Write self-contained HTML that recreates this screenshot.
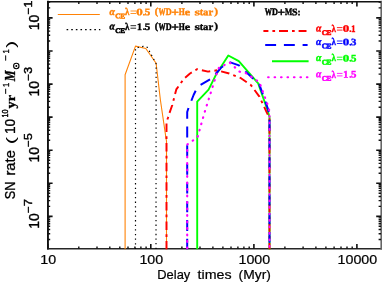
<!DOCTYPE html><html><head><meta charset="utf-8"><style>html,body{margin:0;padding:0;background:#fff}svg{display:block;will-change:transform}text{font-family:"Liberation Sans",sans-serif}.s{font-family:"Liberation Serif",serif;font-weight:bold}</style></head><body>
<svg width="382" height="283" viewBox="0 0 382 283">
<rect width="382" height="283" fill="#fff"/>
<g stroke="#111" stroke-width="1.6" fill="none">
<line x1="47.949999999999996" y1="0.8" x2="47.949999999999996" y2="249.60000000000002" stroke-width="1.9"/>
<line x1="47.0" y1="1.8" x2="382" y2="1.8" stroke-width="1.5"/>
<line x1="47.0" y1="248.75" x2="382" y2="248.75" stroke="#262626" stroke-width="1.7"/>
<line x1="381.2" y1="0.8" x2="381.2" y2="249.60000000000002" stroke="#666"/>
</g>
<path d="M78.8 248.8v-2.4M78.8 1.6v2.4M97.0 248.8v-2.4M97.0 1.6v2.4M109.8 248.8v-2.4M109.8 1.6v2.4M119.8 248.8v-2.4M119.8 1.6v2.4M128.0 248.8v-2.4M128.0 1.6v2.4M134.9 248.8v-2.4M134.9 1.6v2.4M140.9 248.8v-2.4M140.9 1.6v2.4M146.1 248.8v-2.4M146.1 1.6v2.4M181.9 248.8v-2.4M181.9 1.6v2.4M200.0 248.8v-2.4M200.0 1.6v2.4M212.9 248.8v-2.4M212.9 1.6v2.4M222.9 248.8v-2.4M222.9 1.6v2.4M231.0 248.8v-2.4M231.0 1.6v2.4M237.9 248.8v-2.4M237.9 1.6v2.4M243.9 248.8v-2.4M243.9 1.6v2.4M249.2 248.8v-2.4M249.2 1.6v2.4M284.9 248.8v-2.4M284.9 1.6v2.4M303.1 248.8v-2.4M303.1 1.6v2.4M315.9 248.8v-2.4M315.9 1.6v2.4M325.9 248.8v-2.4M325.9 1.6v2.4M334.1 248.8v-2.4M334.1 1.6v2.4M341.0 248.8v-2.4M341.0 1.6v2.4M347.0 248.8v-2.4M347.0 1.6v2.4M352.2 248.8v-2.4M352.2 1.6v2.4M47.8 239.5h2.4M381.0 239.5h-2.4M47.8 233.7h2.4M381.0 233.7h-2.4M47.8 229.5h2.4M381.0 229.5h-2.4M47.8 226.3h2.4M381.0 226.3h-2.4M47.8 223.7h2.4M381.0 223.7h-2.4M47.8 221.5h2.4M381.0 221.5h-2.4M47.8 219.6h2.4M381.0 219.6h-2.4M47.8 217.9h2.4M381.0 217.9h-2.4M47.8 206.4h2.4M381.0 206.4h-2.4M47.8 200.6h2.4M381.0 200.6h-2.4M47.8 196.5h2.4M381.0 196.5h-2.4M47.8 193.3h2.4M381.0 193.3h-2.4M47.8 190.6h2.4M381.0 190.6h-2.4M47.8 188.4h2.4M381.0 188.4h-2.4M47.8 186.5h2.4M381.0 186.5h-2.4M47.8 184.8h2.4M381.0 184.8h-2.4M47.8 173.3h2.4M381.0 173.3h-2.4M47.8 167.5h2.4M381.0 167.5h-2.4M47.8 163.4h2.4M381.0 163.4h-2.4M47.8 160.2h2.4M381.0 160.2h-2.4M47.8 157.6h2.4M381.0 157.6h-2.4M47.8 155.3h2.4M381.0 155.3h-2.4M47.8 153.4h2.4M381.0 153.4h-2.4M47.8 151.7h2.4M381.0 151.7h-2.4M47.8 140.3h2.4M381.0 140.3h-2.4M47.8 134.4h2.4M381.0 134.4h-2.4M47.8 130.3h2.4M381.0 130.3h-2.4M47.8 127.1h2.4M381.0 127.1h-2.4M47.8 124.5h2.4M381.0 124.5h-2.4M47.8 122.3h2.4M381.0 122.3h-2.4M47.8 120.3h2.4M381.0 120.3h-2.4M47.8 118.7h2.4M381.0 118.7h-2.4M47.8 107.2h2.4M381.0 107.2h-2.4M47.8 101.4h2.4M381.0 101.4h-2.4M47.8 97.2h2.4M381.0 97.2h-2.4M47.8 94.0h2.4M381.0 94.0h-2.4M47.8 91.4h2.4M381.0 91.4h-2.4M47.8 89.2h2.4M381.0 89.2h-2.4M47.8 87.3h2.4M381.0 87.3h-2.4M47.8 85.6h2.4M381.0 85.6h-2.4M47.8 74.1h2.4M381.0 74.1h-2.4M47.8 68.3h2.4M381.0 68.3h-2.4M47.8 64.1h2.4M381.0 64.1h-2.4M47.8 60.9h2.4M381.0 60.9h-2.4M47.8 58.3h2.4M381.0 58.3h-2.4M47.8 56.1h2.4M381.0 56.1h-2.4M47.8 54.2h2.4M381.0 54.2h-2.4M47.8 52.5h2.4M381.0 52.5h-2.4M47.8 41.0h2.4M381.0 41.0h-2.4M47.8 35.2h2.4M381.0 35.2h-2.4M47.8 31.1h2.4M381.0 31.1h-2.4M47.8 27.9h2.4M381.0 27.9h-2.4M47.8 25.2h2.4M381.0 25.2h-2.4M47.8 23.0h2.4M381.0 23.0h-2.4M47.8 21.1h2.4M381.0 21.1h-2.4M47.8 19.4h2.4M381.0 19.4h-2.4M47.8 7.9h2.4M381.0 7.9h-2.4M47.8 2.1h2.4M381.0 2.1h-2.4" stroke="#111" stroke-width="1.4" fill="none"/>
<path d="M47.8 248.8v-4.8M47.8 1.6v4.8M150.8 248.8v-4.8M150.8 1.6v4.8M253.9 248.8v-4.8M253.9 1.6v4.8M356.9 248.8v-4.8M356.9 1.6v4.8M47.8 216.4h4.8M381.0 216.4h-4.8M47.8 183.3h4.8M381.0 183.3h-4.8M47.8 150.2h4.8M381.0 150.2h-4.8M47.8 117.1h4.8M381.0 117.1h-4.8M47.8 84.1h4.8M381.0 84.1h-4.8M47.8 51.0h4.8M381.0 51.0h-4.8M47.8 17.9h4.8M381.0 17.9h-4.8" stroke="#111" stroke-width="1.6" fill="none"/>
<clipPath id="cp"><rect x="47.8" y="1.6" width="333.2" height="248.00000000000003"/></clipPath><g clip-path="url(#cp)">
<polyline points="125.1,249.6 125.1,74.8 135.5,46.1 145.8,48.5 156.1,63.3 160.4,100.0 166.1,138.8 166.5,141.0 166.5,249.6" fill="none" stroke="#ff8206" stroke-width="1.1" stroke-linejoin="round" />
<polyline points="135.5,249.6 135.5,48.0 143.4,46.3 147.4,47.4 156.1,63.7 156.0,249.6" fill="none" stroke="#000" stroke-width="1.2" stroke-dasharray="1.3 3.32" stroke-linejoin="round" stroke-dashoffset="-0.5"/>
<polyline points="197.2,249.6 197.2,101.6 208.6,89.6 216.4,73.9 228.3,55.5 238.8,61.1 258.2,83.4 267.8,111.0 269.5,117.0 269.5,249.6" fill="none" stroke="#00ff00" stroke-width="1.9" stroke-linejoin="round" />
<polyline points="166.5,249.6 166.5,122.0 167.9,118.0 169.7,112.4 172.3,105.0 176.3,89.4 184.0,78.6 190.0,73.5 197.2,69.2 208.0,71.6 217.0,70.3 229.2,73.5 240.3,77.8 251.0,85.2 259.4,96.6 266.6,112.1 269.5,118.0 269.5,249.6" fill="none" stroke="#ff0000" stroke-width="1.95" stroke-dasharray="8.5 4.2 2.7 4.2" stroke-linejoin="round" />
<polyline points="187.2,249.6 187.2,112.0 188.5,108.0 193.6,95.0 197.0,88.0 200.4,85.0 211.6,78.5 221.0,67.8 229.3,62.0 239.0,65.4 259.4,84.6 268.2,109.7 269.5,116.0 269.5,249.6" fill="none" stroke="#0000ff" stroke-width="2.0" stroke-dasharray="10.9 7.8" stroke-linejoin="round" />
<polyline points="187.2,249.6 187.2,144.5 197.5,137.3 204.4,113.0 216.4,74.6 219.0,67.6 229.6,62.5 239.5,71.6 245.3,72.8 259.4,82.2 269.0,108.5 269.5,116.0 269.5,249.6" fill="none" stroke="#ff00ff" stroke-width="2.2" stroke-dasharray="0.6 5.9" stroke-linejoin="round" stroke-linecap="round" stroke-dashoffset="-1.3"/>
</g>
<line x1="57.8" y1="14.55" x2="99.8" y2="14.55" stroke="#ff8206" stroke-width="1.1"/>
<line x1="66.6" y1="29.65" x2="100.3" y2="29.65" stroke="#000" stroke-width="1.15" stroke-dasharray="1.6 3.02"/>
<line x1="263.4" y1="31" x2="306.5" y2="31" stroke="#ff0000" stroke-width="1.9" stroke-dasharray="9 4 2.7 3.9" stroke-dashoffset="4"/>
<line x1="265.2" y1="45.0" x2="307.6" y2="45.0" stroke="#0000ff" stroke-width="2.1" stroke-dasharray="10.9 7.8"/>
<line x1="272" y1="61.25" x2="308.6" y2="61.25" stroke="#00ff00" stroke-width="1.85"/>
<line x1="268.1" y1="77.2" x2="308.7" y2="77.2" stroke="#ff00ff" stroke-width="2.1" stroke-dasharray="0.6 5.86" stroke-linecap="round"/>
<text transform="translate(48.25,264) scale(1.09,1)" font-size="13.1" text-anchor="middle" stroke="#000" stroke-width="0.2">10</text>
<text transform="translate(151.30,264) scale(1.09,1)" font-size="13.1" text-anchor="middle" stroke="#000" stroke-width="0.2">100</text>
<text transform="translate(254.35,264) scale(1.09,1)" font-size="13.1" text-anchor="middle" stroke="#000" stroke-width="0.2">1000</text>
<text transform="translate(357.40,264) scale(1.09,1)" font-size="13.1" text-anchor="middle" stroke="#000" stroke-width="0.2">10000</text>
<text x="157.3" y="279" font-size="13" text-anchor="start" textLength="33" lengthAdjust="spacingAndGlyphs" stroke="#000" stroke-width="0.2">Delay</text>
<text x="197.6" y="279" font-size="13" text-anchor="start" textLength="34" lengthAdjust="spacingAndGlyphs" stroke="#000" stroke-width="0.2">times</text>
<text x="238.6" y="279" font-size="13" text-anchor="start" textLength="32.3" lengthAdjust="spacingAndGlyphs" stroke="#000" stroke-width="0.2">(Myr)</text>
<text transform="translate(38.8,30.2) rotate(-90) scale(1,1.2)" font-size="12" textLength="15.4" lengthAdjust="spacingAndGlyphs" stroke="#000" stroke-width="0.3">10</text>
<text transform="translate(32,14.6) rotate(-90) scale(1,1.2)" font-size="9.5" textLength="6.6" lengthAdjust="spacingAndGlyphs" stroke="#000" stroke-width="0.35">−</text>
<text transform="translate(31.5,7.6) rotate(-90) scale(1,1.1)" font-size="9.3" textLength="6.8" lengthAdjust="spacingAndGlyphs" stroke="#000" stroke-width="0.4">1</text>
<text transform="translate(38.8,96.4) rotate(-90) scale(1,1.2)" font-size="12" textLength="15.4" lengthAdjust="spacingAndGlyphs" stroke="#000" stroke-width="0.3">10</text>
<text transform="translate(32,80.8) rotate(-90) scale(1,1.2)" font-size="9.5" textLength="6.6" lengthAdjust="spacingAndGlyphs" stroke="#000" stroke-width="0.35">−</text>
<text transform="translate(31.5,73.8) rotate(-90) scale(1,1.1)" font-size="9.3" textLength="6.8" lengthAdjust="spacingAndGlyphs" stroke="#000" stroke-width="0.4">3</text>
<text transform="translate(38.8,162.5) rotate(-90) scale(1,1.2)" font-size="12" textLength="15.4" lengthAdjust="spacingAndGlyphs" stroke="#000" stroke-width="0.3">10</text>
<text transform="translate(32,146.9) rotate(-90) scale(1,1.2)" font-size="9.5" textLength="6.6" lengthAdjust="spacingAndGlyphs" stroke="#000" stroke-width="0.35">−</text>
<text transform="translate(31.5,139.9) rotate(-90) scale(1,1.1)" font-size="9.3" textLength="6.8" lengthAdjust="spacingAndGlyphs" stroke="#000" stroke-width="0.4">5</text>
<text transform="translate(38.8,228.7) rotate(-90) scale(1,1.2)" font-size="12" textLength="15.4" lengthAdjust="spacingAndGlyphs" stroke="#000" stroke-width="0.3">10</text>
<text transform="translate(32,213.1) rotate(-90) scale(1,1.2)" font-size="9.5" textLength="6.6" lengthAdjust="spacingAndGlyphs" stroke="#000" stroke-width="0.35">−</text>
<text transform="translate(31.5,206.1) rotate(-90) scale(1,1.1)" font-size="9.3" textLength="6.8" lengthAdjust="spacingAndGlyphs" stroke="#000" stroke-width="0.4">7</text>
<text transform="translate(14.6,199.3) rotate(-90) scale(1,1.2)" font-size="11.5" textLength="17.6" lengthAdjust="spacingAndGlyphs" stroke="#000" stroke-width="0.25">SN</text>
<text transform="translate(14.7,175.6) rotate(-90) scale(1,1.2)" font-size="11.5" textLength="25.6" lengthAdjust="spacingAndGlyphs" stroke="#000" stroke-width="0.25">rate</text>
<text transform="translate(14.9,144.2) rotate(-90) scale(1.9,1.12)" font-size="11.5" >(</text>
<text transform="translate(14.6,134) rotate(-90) scale(1,1.2)" font-size="11.5" textLength="15.2" lengthAdjust="spacingAndGlyphs" stroke="#000" stroke-width="0.25">10</text>
<text transform="translate(8.2,117.4) rotate(-90) scale(1,1.15)" font-size="8.4" textLength="8.0" lengthAdjust="spacingAndGlyphs" stroke="#000" stroke-width="0.4">10</text>
<text transform="translate(14.6,108.4) rotate(-90) scale(1,1.1)" font-size="12" textLength="13.4" lengthAdjust="spacingAndGlyphs" class="s" stroke="#000" stroke-width="0.3">yr</text>
<text transform="translate(8.5,94) rotate(-90) scale(1,1.15)" font-size="8.5" textLength="5.6" lengthAdjust="spacingAndGlyphs" stroke="#000" stroke-width="0.3">−</text>
<text transform="translate(8.5,87) rotate(-90) scale(1,1.15)" font-size="8" textLength="4.2" lengthAdjust="spacingAndGlyphs" stroke="#000" stroke-width="0.3">1</text>
<text transform="translate(15.1,81.2) rotate(-90) scale(1,1.08)" font-size="13" textLength="10.8" lengthAdjust="spacingAndGlyphs" class="s" font-style="italic" stroke="#000" stroke-width="0.3">M</text>
<circle cx="16.3" cy="66" r="2.7" fill="none" stroke="#000" stroke-width="1.1"/><circle cx="16.3" cy="66" r="1.0" fill="#000"/>
<text transform="translate(8.5,60.7) rotate(-90) scale(1,1.15)" font-size="8.5" textLength="5.6" lengthAdjust="spacingAndGlyphs" stroke="#000" stroke-width="0.3">−</text>
<text transform="translate(8.5,53.6) rotate(-90) scale(1,1.15)" font-size="8" textLength="4.2" lengthAdjust="spacingAndGlyphs" stroke="#000" stroke-width="0.3">1</text>
<text transform="translate(14.9,48.0) rotate(-90) scale(1.9,1.12)" font-size="11.5" >)</text>
<text transform="translate(109.57,14.89) rotate(0.03) scale(0.977,1.058)" font-size="10" style="font-family:'Liberation Serif';font-weight:bold;font-style:italic" fill="#ff8206" stroke="#ff8206" stroke-width="0.41">α</text>
<text transform="translate(115.24,18.33) rotate(0.03) scale(0.737,0.700)" font-size="10" style="font-family:'Liberation Serif';font-weight:bold" fill="#ff8206" stroke="#ff8206" stroke-width="0.77">C</text>
<text transform="translate(120.17,18.40) rotate(0.03) scale(0.735,0.718)" font-size="10" style="font-family:'Liberation Serif';font-weight:bold" fill="#ff8206" stroke="#ff8206" stroke-width="0.76">E</text>
<text transform="translate(125.00,15.20) rotate(0.03) scale(0.891,1.023)" font-size="10" style="font-family:'Liberation Serif';font-weight:bold" fill="#ff8206" stroke="#ff8206" stroke-width="0.44">λ</text>
<path d="M130.5 11.0h5.6M130.5 13.5h5.6" stroke="#ff8206" stroke-width="0.85" fill="none"/>
<text transform="translate(136.31,15.20) rotate(0.03) scale(1.298,0.993)" font-size="10" style="font-family:'Liberation Serif';font-weight:bold" fill="#ff8206" stroke="#ff8206" stroke-width="0.37">0</text>
<text transform="translate(142.79,15.17) rotate(0.03) scale(0.925,0.925)" font-size="10" style="font-family:'Liberation Serif';font-weight:bold" fill="#ff8206" stroke="#ff8206" stroke-width="0.45">.</text>
<text transform="translate(144.66,15.20) rotate(0.03) scale(1.087,1.008)" font-size="10" style="font-family:'Liberation Serif';font-weight:bold" fill="#ff8206" stroke="#ff8206" stroke-width="0.40">5</text>
<text transform="translate(154.76,14.59) rotate(0.03) scale(1.012,0.993)" font-size="10" style="font-family:'Liberation Serif';font-weight:bold" fill="#ff8206" stroke="#ff8206" stroke-width="0.42">(</text>
<text transform="translate(158.50,15.15) rotate(0.03) scale(0.711,0.985)" font-size="10" style="font-family:'Liberation Serif';font-weight:bold" fill="#ff8206" stroke="#ff8206" stroke-width="0.50">W</text>
<text transform="translate(165.76,15.18) rotate(0.03) scale(0.823,0.990)" font-size="10" style="font-family:'Liberation Serif';font-weight:bold" fill="#ff8206" stroke="#ff8206" stroke-width="0.46">D</text>
<text transform="translate(171.19,16.29) rotate(0.03) scale(1.355,1.202)" font-size="10" style="font-family:'Liberation Serif';font-weight:bold" fill="#ff8206" stroke="#ff8206" stroke-width="0.33">+</text>
<text transform="translate(178.67,15.20) rotate(0.03) scale(0.779,0.993)" font-size="10" style="font-family:'Liberation Serif';font-weight:bold" fill="#ff8206" stroke="#ff8206" stroke-width="0.47">H</text>
<text transform="translate(184.68,15.21) rotate(0.03) scale(1.225,0.980)" font-size="10" style="font-family:'Liberation Serif';font-weight:bold" fill="#ff8206" stroke="#ff8206" stroke-width="0.38">e</text>
<text transform="translate(194.47,15.20) rotate(0.03) scale(1.405,0.977)" font-size="10" style="font-family:'Liberation Serif';font-weight:bold" fill="#ff8206" stroke="#ff8206" stroke-width="0.35">s</text>
<text transform="translate(199.74,15.20) rotate(0.03) scale(0.992,1.030)" font-size="10" style="font-family:'Liberation Serif';font-weight:bold" fill="#ff8206" stroke="#ff8206" stroke-width="0.42">t</text>
<text transform="translate(203.06,15.20) rotate(0.03) scale(1.060,0.981)" font-size="10" style="font-family:'Liberation Serif';font-weight:bold" fill="#ff8206" stroke="#ff8206" stroke-width="0.41">a</text>
<text transform="translate(208.51,15.20) rotate(0.03) scale(1.062,0.971)" font-size="10" style="font-family:'Liberation Serif';font-weight:bold" fill="#ff8206" stroke="#ff8206" stroke-width="0.41">r</text>
<text transform="translate(214.14,14.59) rotate(0.03) scale(1.129,0.993)" font-size="10" style="font-family:'Liberation Serif';font-weight:bold" fill="#ff8206" stroke="#ff8206" stroke-width="0.40">)</text>
<text transform="translate(109.57,29.59) rotate(0.03) scale(0.977,1.058)" font-size="10" style="font-family:'Liberation Serif';font-weight:bold;font-style:italic" fill="#000" stroke="#000" stroke-width="0.41">α</text>
<text transform="translate(115.24,33.03) rotate(0.03) scale(0.737,0.700)" font-size="10" style="font-family:'Liberation Serif';font-weight:bold" fill="#000" stroke="#000" stroke-width="0.77">C</text>
<text transform="translate(120.17,33.10) rotate(0.03) scale(0.735,0.718)" font-size="10" style="font-family:'Liberation Serif';font-weight:bold" fill="#000" stroke="#000" stroke-width="0.76">E</text>
<text transform="translate(125.00,29.90) rotate(0.03) scale(0.891,1.023)" font-size="10" style="font-family:'Liberation Serif';font-weight:bold" fill="#000" stroke="#000" stroke-width="0.44">λ</text>
<path d="M130.5 25.7h5.6M130.5 28.2h5.6" stroke="#000" stroke-width="0.85" fill="none"/>
<text transform="translate(136.90,29.90) rotate(0.03) scale(1.005,1.000)" font-size="10" style="font-family:'Liberation Serif';font-weight:bold" fill="#000" stroke="#000" stroke-width="0.42">1</text>
<text transform="translate(142.79,29.87) rotate(0.03) scale(0.925,0.925)" font-size="10" style="font-family:'Liberation Serif';font-weight:bold" fill="#000" stroke="#000" stroke-width="0.45">.</text>
<text transform="translate(144.66,29.90) rotate(0.03) scale(1.087,1.008)" font-size="10" style="font-family:'Liberation Serif';font-weight:bold" fill="#000" stroke="#000" stroke-width="0.40">5</text>
<text transform="translate(154.76,29.29) rotate(0.03) scale(1.012,0.993)" font-size="10" style="font-family:'Liberation Serif';font-weight:bold" fill="#000" stroke="#000" stroke-width="0.42">(</text>
<text transform="translate(158.50,29.85) rotate(0.03) scale(0.711,0.985)" font-size="10" style="font-family:'Liberation Serif';font-weight:bold" fill="#000" stroke="#000" stroke-width="0.50">W</text>
<text transform="translate(165.76,29.88) rotate(0.03) scale(0.823,0.990)" font-size="10" style="font-family:'Liberation Serif';font-weight:bold" fill="#000" stroke="#000" stroke-width="0.46">D</text>
<text transform="translate(171.19,30.99) rotate(0.03) scale(1.355,1.202)" font-size="10" style="font-family:'Liberation Serif';font-weight:bold" fill="#000" stroke="#000" stroke-width="0.33">+</text>
<text transform="translate(178.67,29.90) rotate(0.03) scale(0.779,0.993)" font-size="10" style="font-family:'Liberation Serif';font-weight:bold" fill="#000" stroke="#000" stroke-width="0.47">H</text>
<text transform="translate(184.68,29.91) rotate(0.03) scale(1.225,0.980)" font-size="10" style="font-family:'Liberation Serif';font-weight:bold" fill="#000" stroke="#000" stroke-width="0.38">e</text>
<text transform="translate(194.47,29.90) rotate(0.03) scale(1.405,0.977)" font-size="10" style="font-family:'Liberation Serif';font-weight:bold" fill="#000" stroke="#000" stroke-width="0.35">s</text>
<text transform="translate(199.74,29.90) rotate(0.03) scale(0.992,1.030)" font-size="10" style="font-family:'Liberation Serif';font-weight:bold" fill="#000" stroke="#000" stroke-width="0.42">t</text>
<text transform="translate(203.06,29.90) rotate(0.03) scale(1.060,0.981)" font-size="10" style="font-family:'Liberation Serif';font-weight:bold" fill="#000" stroke="#000" stroke-width="0.41">a</text>
<text transform="translate(208.51,29.90) rotate(0.03) scale(1.062,0.971)" font-size="10" style="font-family:'Liberation Serif';font-weight:bold" fill="#000" stroke="#000" stroke-width="0.41">r</text>
<text transform="translate(214.14,29.29) rotate(0.03) scale(1.129,0.993)" font-size="10" style="font-family:'Liberation Serif';font-weight:bold" fill="#000" stroke="#000" stroke-width="0.40">)</text>
<text transform="translate(315.97,31.49) rotate(0.03) scale(0.977,1.058)" font-size="10" style="font-family:'Liberation Serif';font-weight:bold;font-style:italic" fill="#ff0000" stroke="#ff0000" stroke-width="0.41">α</text>
<text transform="translate(321.64,34.93) rotate(0.03) scale(0.737,0.700)" font-size="10" style="font-family:'Liberation Serif';font-weight:bold" fill="#ff0000" stroke="#ff0000" stroke-width="0.77">C</text>
<text transform="translate(326.57,35.00) rotate(0.03) scale(0.735,0.718)" font-size="10" style="font-family:'Liberation Serif';font-weight:bold" fill="#ff0000" stroke="#ff0000" stroke-width="0.76">E</text>
<text transform="translate(331.40,31.80) rotate(0.03) scale(0.891,1.023)" font-size="10" style="font-family:'Liberation Serif';font-weight:bold" fill="#ff0000" stroke="#ff0000" stroke-width="0.44">λ</text>
<path d="M336.9 27.6h5.6M336.9 30.1h5.6" stroke="#ff0000" stroke-width="0.85" fill="none"/>
<text transform="translate(342.71,31.80) rotate(0.03) scale(1.298,0.993)" font-size="10" style="font-family:'Liberation Serif';font-weight:bold" fill="#ff0000" stroke="#ff0000" stroke-width="0.37">0</text>
<text transform="translate(349.19,31.77) rotate(0.03) scale(0.925,0.925)" font-size="10" style="font-family:'Liberation Serif';font-weight:bold" fill="#ff0000" stroke="#ff0000" stroke-width="0.45">.</text>
<text transform="translate(351.23,31.80) rotate(0.03) scale(0.842,1.000)" font-size="10" style="font-family:'Liberation Serif';font-weight:bold" fill="#ff0000" stroke="#ff0000" stroke-width="0.46">1</text>
<text transform="translate(315.97,44.89) rotate(0.03) scale(0.977,1.058)" font-size="10" style="font-family:'Liberation Serif';font-weight:bold;font-style:italic" fill="#0000ff" stroke="#0000ff" stroke-width="0.41">α</text>
<text transform="translate(321.64,48.33) rotate(0.03) scale(0.737,0.700)" font-size="10" style="font-family:'Liberation Serif';font-weight:bold" fill="#0000ff" stroke="#0000ff" stroke-width="0.77">C</text>
<text transform="translate(326.57,48.40) rotate(0.03) scale(0.735,0.718)" font-size="10" style="font-family:'Liberation Serif';font-weight:bold" fill="#0000ff" stroke="#0000ff" stroke-width="0.76">E</text>
<text transform="translate(331.40,45.20) rotate(0.03) scale(0.891,1.023)" font-size="10" style="font-family:'Liberation Serif';font-weight:bold" fill="#0000ff" stroke="#0000ff" stroke-width="0.44">λ</text>
<path d="M336.9 41.0h5.6M336.9 43.5h5.6" stroke="#0000ff" stroke-width="0.85" fill="none"/>
<text transform="translate(342.71,45.20) rotate(0.03) scale(1.298,0.993)" font-size="10" style="font-family:'Liberation Serif';font-weight:bold" fill="#0000ff" stroke="#0000ff" stroke-width="0.37">0</text>
<text transform="translate(349.19,45.17) rotate(0.03) scale(0.925,0.925)" font-size="10" style="font-family:'Liberation Serif';font-weight:bold" fill="#0000ff" stroke="#0000ff" stroke-width="0.45">.</text>
<text transform="translate(351.10,45.20) rotate(0.03) scale(1.074,0.997)" font-size="10" style="font-family:'Liberation Serif';font-weight:bold" fill="#0000ff" stroke="#0000ff" stroke-width="0.41">3</text>
<text transform="translate(315.97,61.09) rotate(0.03) scale(0.977,1.058)" font-size="10" style="font-family:'Liberation Serif';font-weight:bold;font-style:italic" fill="#00ff00" stroke="#00ff00" stroke-width="0.41">α</text>
<text transform="translate(321.64,64.53) rotate(0.03) scale(0.737,0.700)" font-size="10" style="font-family:'Liberation Serif';font-weight:bold" fill="#00ff00" stroke="#00ff00" stroke-width="0.77">C</text>
<text transform="translate(326.57,64.60) rotate(0.03) scale(0.735,0.718)" font-size="10" style="font-family:'Liberation Serif';font-weight:bold" fill="#00ff00" stroke="#00ff00" stroke-width="0.76">E</text>
<text transform="translate(331.40,61.40) rotate(0.03) scale(0.891,1.023)" font-size="10" style="font-family:'Liberation Serif';font-weight:bold" fill="#00ff00" stroke="#00ff00" stroke-width="0.44">λ</text>
<path d="M336.9 57.2h5.6M336.9 59.7h5.6" stroke="#00ff00" stroke-width="0.85" fill="none"/>
<text transform="translate(342.71,61.40) rotate(0.03) scale(1.298,0.993)" font-size="10" style="font-family:'Liberation Serif';font-weight:bold" fill="#00ff00" stroke="#00ff00" stroke-width="0.37">0</text>
<text transform="translate(349.19,61.37) rotate(0.03) scale(0.925,0.925)" font-size="10" style="font-family:'Liberation Serif';font-weight:bold" fill="#00ff00" stroke="#00ff00" stroke-width="0.45">.</text>
<text transform="translate(351.06,61.40) rotate(0.03) scale(1.087,1.008)" font-size="10" style="font-family:'Liberation Serif';font-weight:bold" fill="#00ff00" stroke="#00ff00" stroke-width="0.40">5</text>
<text transform="translate(315.97,77.29) rotate(0.03) scale(0.977,1.058)" font-size="10" style="font-family:'Liberation Serif';font-weight:bold;font-style:italic" fill="#ff00ff" stroke="#ff00ff" stroke-width="0.41">α</text>
<text transform="translate(321.64,80.73) rotate(0.03) scale(0.737,0.700)" font-size="10" style="font-family:'Liberation Serif';font-weight:bold" fill="#ff00ff" stroke="#ff00ff" stroke-width="0.77">C</text>
<text transform="translate(326.57,80.80) rotate(0.03) scale(0.735,0.718)" font-size="10" style="font-family:'Liberation Serif';font-weight:bold" fill="#ff00ff" stroke="#ff00ff" stroke-width="0.76">E</text>
<text transform="translate(331.40,77.60) rotate(0.03) scale(0.891,1.023)" font-size="10" style="font-family:'Liberation Serif';font-weight:bold" fill="#ff00ff" stroke="#ff00ff" stroke-width="0.44">λ</text>
<path d="M336.9 73.4h5.6M336.9 75.9h5.6" stroke="#ff00ff" stroke-width="0.85" fill="none"/>
<text transform="translate(343.30,77.60) rotate(0.03) scale(1.005,1.000)" font-size="10" style="font-family:'Liberation Serif';font-weight:bold" fill="#ff00ff" stroke="#ff00ff" stroke-width="0.42">1</text>
<text transform="translate(349.19,77.57) rotate(0.03) scale(0.925,0.925)" font-size="10" style="font-family:'Liberation Serif';font-weight:bold" fill="#ff00ff" stroke="#ff00ff" stroke-width="0.45">.</text>
<text transform="translate(351.06,77.60) rotate(0.03) scale(1.087,1.008)" font-size="10" style="font-family:'Liberation Serif';font-weight:bold" fill="#ff00ff" stroke="#ff00ff" stroke-width="0.40">5</text>
<text transform="translate(264.70,15.15) rotate(0.03) scale(0.721,0.985)" font-size="10" style="font-family:'Liberation Serif';font-weight:bold" fill="#000" stroke="#000" stroke-width="0.49">W</text>
<text transform="translate(271.96,15.18) rotate(0.03) scale(0.823,0.990)" font-size="10" style="font-family:'Liberation Serif';font-weight:bold" fill="#000" stroke="#000" stroke-width="0.46">D</text>
<text transform="translate(277.50,16.29) rotate(0.03) scale(1.334,1.202)" font-size="10" style="font-family:'Liberation Serif';font-weight:bold" fill="#000" stroke="#000" stroke-width="0.33">+</text>
<text transform="translate(284.97,15.20) rotate(0.03) scale(0.768,0.993)" font-size="10" style="font-family:'Liberation Serif';font-weight:bold" fill="#000" stroke="#000" stroke-width="0.48">M</text>
<text transform="translate(291.97,15.20) rotate(0.03) scale(0.999,0.997)" font-size="10" style="font-family:'Liberation Serif';font-weight:bold" fill="#000" stroke="#000" stroke-width="0.42">S</text>
<text transform="translate(297.44,15.16) rotate(0.03) scale(0.928,0.973)" font-size="10" style="font-family:'Liberation Serif';font-weight:bold" fill="#000" stroke="#000" stroke-width="0.44">:</text>
</svg></body></html>
